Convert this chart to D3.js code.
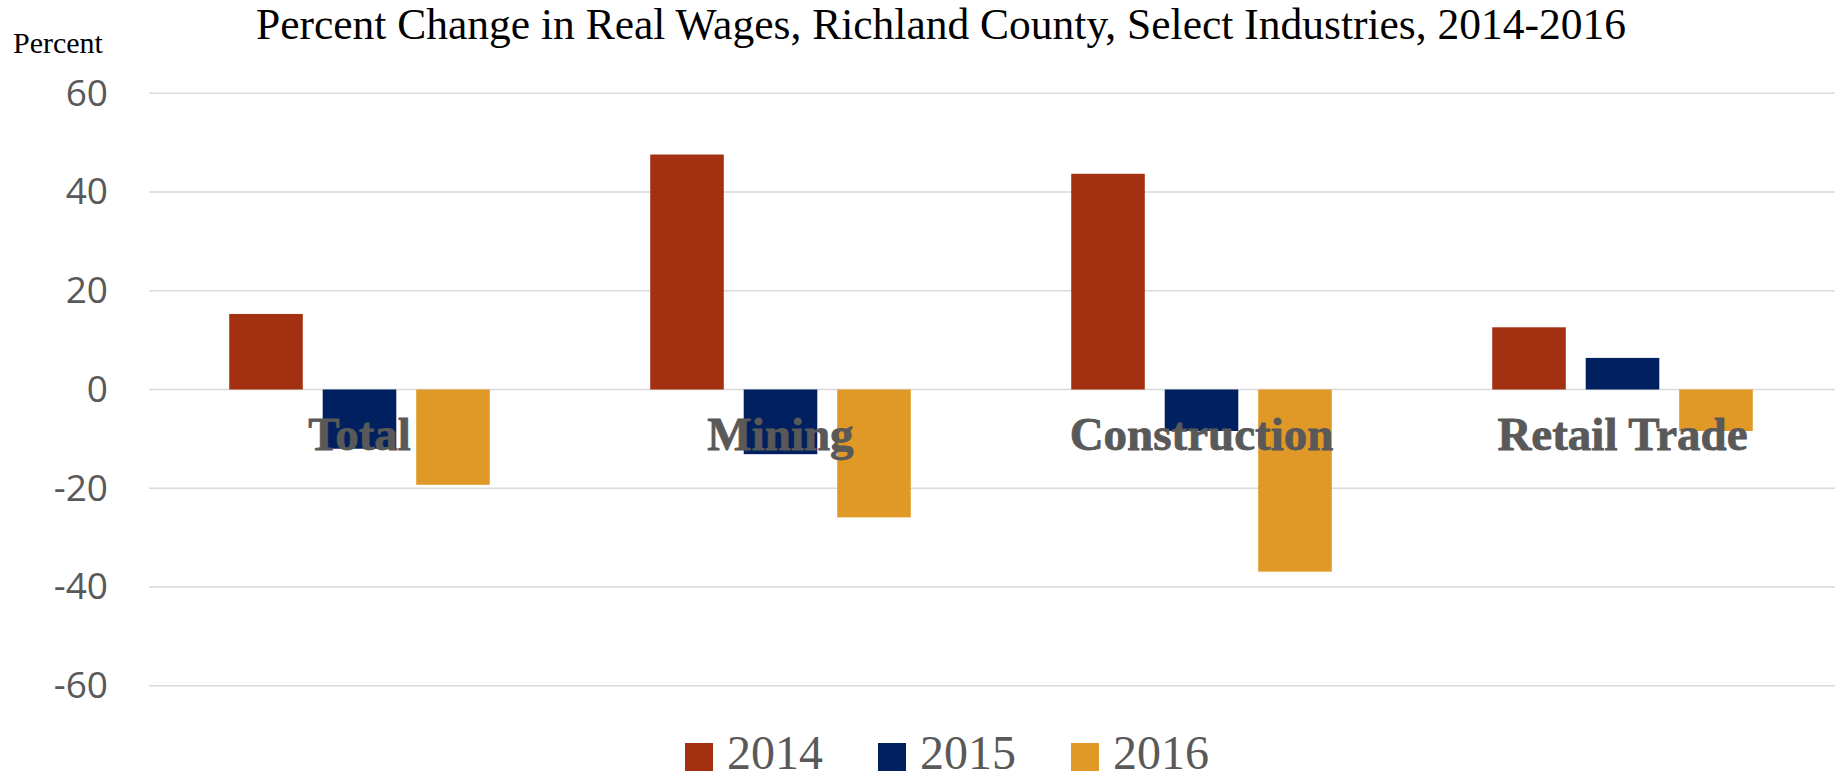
<!DOCTYPE html>
<html>
<head>
<meta charset="utf-8">
<script src="https://cdn.jsdelivr.net/npm/d3@7"></script>
<style>
  html, body { margin: 0; padding: 0; background: #fff; }
  svg { display: block; }
</style>
</head>
<body>
<svg id="chart"></svg>
<script>
const industries = ["Total", "Mining", "Construction", "Retail Trade"];
const years = ["2014", "2015", "2016"];
const values2014 = [15.3, 47.6, 43.7, 12.6];
const values2015 = [-12.0, -13.1, -8.4, 6.4];
const values2016 = [-19.3, -25.9, -36.9, -8.4];
const yTicks = [-60, -40, -20, 0, 20, 40, 60];
const colors = ["#A33011", "#002060", "#E09826"];

const width = 1835;
const height = 781;

const seriesValues = [values2014, values2015, values2016];
const rows = industries.map((name, i) => ({
  name: name,
  values: years.map((year, j) => ({ year: year, value: seriesValues[j][i] }))
}));

const svg = d3.select("#chart").attr("width", width).attr("height", height);

const x = d3.scaleBand().domain(industries).range([149, 1833]).paddingInner(0).paddingOuter(0);
const xYear = d3.scaleBand().domain(years).range([0, x.bandwidth()]).paddingInner(0.213).paddingOuter(0.858);
const y = d3.scaleLinear().domain([-60, 60]).range([685.7, 93.3]);
const color = d3.scaleOrdinal().domain(years).range(colors);

// title + unit label
svg.append("text")
  .attr("x", 941)
  .attr("y", 39)
  .attr("text-anchor", "middle")
  .attr("font-family", "Liberation Serif, serif")
  .attr("font-size", 43.5)
  .attr("fill", "#000")
  .text("Percent Change in Real Wages, Richland County, Select Industries, 2014-2016");

svg.append("text")
  .attr("x", 13)
  .attr("y", 53)
  .attr("font-family", "Liberation Serif, serif")
  .attr("font-size", 30)
  .attr("fill", "#000")
  .text("Percent");

// gridlines
svg.append("g")
  .selectAll("line")
  .data(yTicks)
  .join("line")
  .attr("x1", x.range()[0])
  .attr("x2", width)
  .attr("y1", d => y(d))
  .attr("y2", d => y(d))
  .attr("stroke", "#d9d9d9")
  .attr("stroke-width", 1.5);

// y axis labels, plain hyphen for negatives like the original
const yAxis = svg.append("g")
  .attr("transform", "translate(108,0)")
  .call(d3.axisLeft(y).tickValues(yTicks).tickSize(0).tickPadding(0).tickFormat(d => String(d)));
yAxis.select(".domain").remove();
yAxis.selectAll("text")
  .attr("font-family", "Open Sans, sans-serif")
  .attr("font-size", 37)
  .attr("fill", "#595959");

// bars
const groups = svg.append("g")
  .selectAll("g")
  .data(rows)
  .join("g")
  .attr("transform", d => `translate(${x(d.name)},0)`);

groups.selectAll("rect")
  .data(d => d.values)
  .join("rect")
  .attr("x", d => xYear(d.year))
  .attr("width", xYear.bandwidth())
  .attr("y", d => y(Math.max(0, d.value)))
  .attr("height", d => Math.abs(y(d.value) - y(0)))
  .attr("fill", d => color(d.year));

// category labels sit just under the zero line, over the bars
svg.append("g")
  .selectAll("text")
  .data(industries)
  .join("text")
  .attr("x", d => x(d) + x.bandwidth() / 2)
  .attr("y", y(0) + 60)
  .attr("text-anchor", "middle")
  .attr("font-family", "Liberation Serif, serif")
  .attr("font-weight", "bold")
  .attr("font-size", 47)
  .attr("fill", "#595959")
  .attr("stroke", "#595959")
  .attr("stroke-width", 0.8)
  .text(d => d);

// legend
const legend = svg.append("g")
  .selectAll("g")
  .data(years)
  .join("g")
  .attr("transform", (d, i) => `translate(${685 + i * 193},743)`);

legend.append("rect")
  .attr("width", 28)
  .attr("height", 28)
  .attr("fill", d => color(d));

legend.append("text")
  .attr("x", 42)
  .attr("y", 26)
  .attr("font-family", "Liberation Serif, serif")
  .attr("font-size", 48)
  .attr("fill", "#595959")
  .text(d => d);
</script>
</body>
</html>
